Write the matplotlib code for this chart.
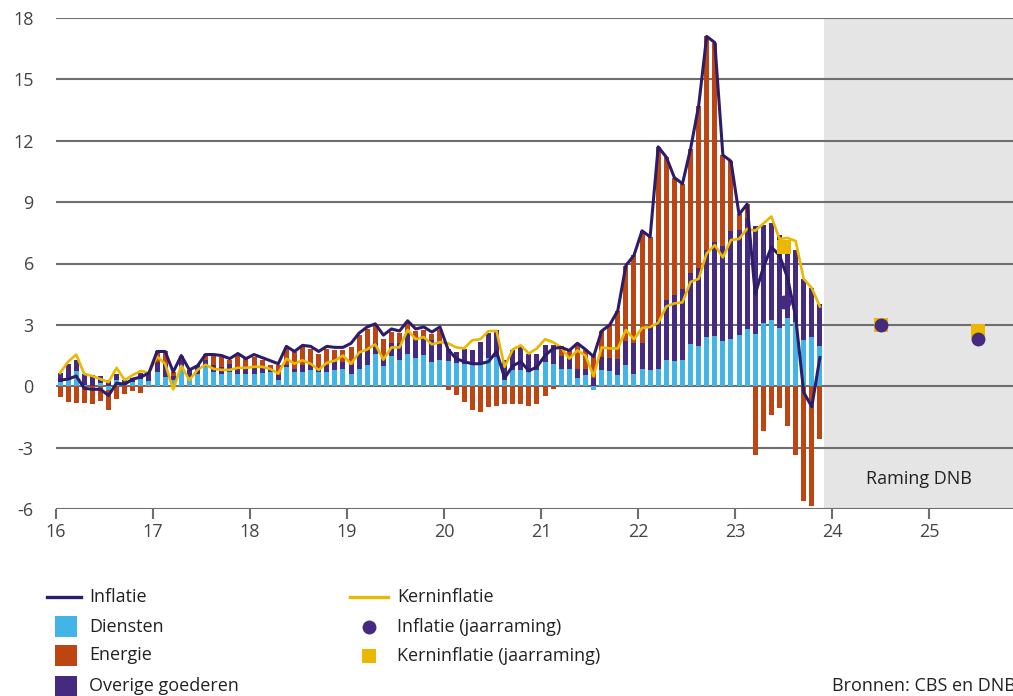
import numpy as np
import matplotlib
matplotlib.use("Agg")
import matplotlib.pyplot as plt
from matplotlib.patches import Rectangle
from matplotlib.lines import Line2D

plt.rcParams['font.family'] = ['Open Sans', 'DejaVu Sans']
plt.rcParams['axes.unicode_minus'] = False

# maandcijfers jan 2016 t/m nov 2023, bijdragen in procentpunten
diensten = [0.21, 0.29, 0.73, 0.05, 0.00, 0.16, -0.16, 0.29, 0.13, 0.21, 0.34, 0.26,
            0.70, 0.46, 0.30, 1.00, 0.46, 0.62, 0.94, 0.70, 0.62, 0.70, 0.59, 0.62,
            0.59, 0.65, 0.70, 0.29, 0.95, 0.70, 0.70, 0.78, 0.70, 0.70, 0.78, 0.83,
            0.59, 0.83, 1.03, 1.57, 0.98, 1.47, 1.30, 1.60, 1.37, 1.55, 1.19, 1.27,
            1.22, 1.16, 1.08, 1.03, 1.14, 1.40, 1.44, 0.30, 0.78, 0.78, 0.70, 0.78,
            1.19, 1.08, 0.86, 0.86, 0.38, 0.54, -0.20, 0.78, 0.75, 0.54, 1.03, 0.62,
            0.86, 0.78, 0.86, 1.27, 1.22, 1.27, 2.05, 1.97, 2.41, 2.44, 2.20, 2.30,
            2.49, 2.79, 2.57, 3.11, 3.23, 2.87, 3.36, 3.16, 2.28, 2.41, 1.97]
overige = [0.46, 0.78, 0.57, 0.54, 0.57, 0.33, 0.30, 0.33, 0.16, 0.20, 0.31, 0.44,
           0.49, 0.64, 0.20, 0.30, 0.32, 0.41, 0.33, 0.36, 0.32, 0.40, 0.35, 0.32,
           0.36, 0.35, 0.20, 0.25, 0.10, 0.16, 0.33, 0.25, 0.25, 0.33, 0.41, 0.36,
           0.44, 0.85, 0.73, 0.52, 0.37, 0.62, 0.79, 0.98, 0.88, 0.86, 1.06, 0.82,
           0.62, 0.50, 0.75, 0.73, 1.03, 1.18, 1.30, 1.00, 1.01, 1.14, 0.90, 0.82,
           0.81, 0.92, 0.61, 0.61, 0.48, 0.29, 0.40, 0.65, 0.63, 0.81, 1.17, 1.51,
           1.26, 2.20, 2.40, 2.93, 3.23, 3.50, 3.50, 3.83, 4.23, 4.61, 4.66, 5.27,
           5.13, 5.41, 5.25, 4.76, 4.77, 4.51, 3.81, 3.52, 2.98, 2.41, 2.03]
energie = [-0.52, -0.77, -0.81, -0.81, -0.88, -0.72, -0.98, -0.63, -0.36, -0.23, -0.33, -0.05,
           0.54, 0.63, 0.20, 0.20, 0.03, 0.00, 0.29, 0.45, 0.49, 0.20, 0.66, 0.44,
           0.49, 0.27, 0.13, 0.49, 0.87, 0.82, 0.89, 0.81, 0.65, 0.81, 0.60, 0.60,
           0.89, 0.82, 1.06, 0.89, 0.98, 0.57, 0.49, 0.49, 0.46, 0.36, 0.29, 0.65,
           -0.16, -0.41, -0.77, -1.17, -1.26, -1.01, -0.98, -0.88, -0.88, -0.88, -0.98, -0.85,
           -0.49, -0.11, 0.49, 0.29, 1.23, 0.93, 1.20, 1.27, 1.62, 2.35, 3.70, 4.27,
           5.48, 4.32, 8.44, 7.00, 5.75, 5.13, 6.05, 7.90, 10.46, 9.75, 4.44, 3.43,
           0.78, 0.70, -3.37, -2.18, -1.42, -1.06, -1.94, -3.37, -5.60, -5.87, -2.60]
inflatie = [0.30, 0.35, 0.50, -0.10, -0.15, -0.15, -0.45, 0.15, 0.10, 0.35, 0.45, 0.65,
            1.70, 1.70, 0.70, 1.50, 0.80, 1.00, 1.55, 1.55, 1.50, 1.35, 1.60, 1.35,
            1.55, 1.40, 1.25, 1.10, 1.95, 1.70, 2.00, 1.95, 1.70, 1.95, 1.90, 1.90,
            2.10, 2.60, 2.90, 3.05, 2.50, 2.80, 2.70, 3.20, 2.80, 2.90, 2.65, 2.90,
            1.80, 1.35, 1.20, 1.10, 1.10, 1.20, 1.70, 0.40, 1.00, 1.20, 0.75, 0.95,
            1.50, 1.85, 1.90, 1.75, 2.10, 1.80, 1.45, 2.70, 3.00, 3.70, 5.90, 6.40,
            7.60, 7.30, 11.70, 11.20, 10.20, 9.90, 11.60, 13.70, 17.10, 16.80, 11.30, 11.00,
            8.40, 8.90, 4.50, 5.80, 6.80, 6.40, 5.30, 3.40, -0.30, -1.00, 1.40]
kerninflatie = [0.65, 1.20, 1.55, 0.60, 0.50, 0.35, 0.20, 0.90, 0.30, 0.55, 0.75, 0.65,
                1.45, 1.10, -0.15, 1.00, 0.30, 0.80, 1.05, 0.85, 0.80, 0.80, 0.90, 0.90,
                0.95, 0.95, 0.85, 0.62, 1.35, 1.10, 1.27, 1.10, 0.80, 1.15, 1.25, 1.50,
                1.10, 1.65, 1.80, 2.05, 1.30, 1.90, 1.90, 2.75, 2.30, 2.40, 2.05, 2.15,
                2.10, 1.90, 1.85, 2.25, 2.30, 2.70, 2.70, 0.95, 1.80, 2.00, 1.60, 1.85,
                2.30, 2.15, 1.90, 1.35, 1.75, 1.50, 0.50, 1.90, 1.85, 1.85, 2.75, 2.30,
                2.85, 2.90, 3.10, 3.90, 4.05, 4.10, 5.10, 5.25, 6.50, 6.90, 6.30, 7.15,
                7.20, 7.70, 7.60, 7.95, 8.30, 7.20, 7.25, 7.10, 5.25, 4.80, 3.90]

# jaarramingen DNB
raming_jaar = [23, 24, 25]
raming_inflatie = [4.1, 3.0, 2.3]
raming_kern = [6.8, 3.0, 2.7]

c_diensten = '#42b4e6'
c_energie = '#bc4511'
c_overige = '#452a80'
c_inflatie = '#2c1c6a'
c_kern = '#eab800'
c_grid = '#6e6e6e'
c_tekst = '#222222'

W, H = 1013, 696
fig = plt.figure(figsize=(W / 100, H / 100), dpi=100)
ax = fig.add_axes([56 / W, 1 - 509 / H, (W - 56) / W, (509 - 18) / H])

x = 16 + (np.arange(len(inflatie)) + 0.5) / 12
breedte = 0.052

ax.axvspan(16 + 95 / 12, 27, color='#e5e5e5', zorder=0, lw=0)
for y in range(-6, 19, 3):
    ax.axhline(y, color=c_grid, lw=1.5, zorder=1)

pos_basis = np.zeros(len(x))
neg_basis = np.zeros(len(x))
for reeks, kleur in [(diensten, c_diensten), (overige, c_overige), (energie, c_energie)]:
    v = np.array(reeks)
    pos = np.clip(v, 0, None)
    neg = np.clip(v, None, 0)
    ax.bar(x, pos, bottom=pos_basis, width=breedte, color=kleur, lw=0, zorder=2)
    ax.bar(x, neg, bottom=neg_basis, width=breedte, color=kleur, lw=0, zorder=2)
    pos_basis += pos
    neg_basis += neg

ax.plot(x, kerninflatie, color=c_kern, lw=1.9, zorder=3)
ax.plot(x, inflatie, color=c_inflatie, lw=2.2, zorder=4)

rx = np.array(raming_jaar) + 0.5
ax.plot(rx, raming_kern, 's', color=c_kern, ms=9.5, mew=0, zorder=5)
ax.plot(rx, raming_inflatie, 'o', color=c_overige, ms=10, mew=0, zorder=6)

ax.text(24.9, -4.55, 'Raming DNB', ha='center', va='center', fontsize=13, color=c_tekst)

ax.set_xlim(16, 16 + (W - 56) / 97)
ax.set_ylim(-6, 18)
ax.set_xticks(range(16, 26))
ax.set_xticklabels([str(j) for j in range(16, 26)])
ax.set_yticks(range(-6, 19, 3))
ax.tick_params(axis='x', length=7, width=1.5, color=c_grid, labelsize=13,
               labelcolor='#444444', pad=3)
ax.tick_params(axis='y', length=0, labelsize=13, labelcolor='#444444', pad=16)
for s in ax.spines.values():
    s.set_visible(False)


def fx(px):
    return px / W


def fy(py):
    return 1 - py / H


# legenda
fig.add_artist(Line2D([fx(47), fx(81)], [fy(597), fy(597)], color=c_inflatie, lw=2.4))
fig.add_artist(Line2D([fx(350), fx(388)], [fy(597), fy(597)], color=c_kern, lw=2.4))
for cy, kleur in [(626.5, c_diensten), (655.5, c_energie), (686, c_overige)]:
    fig.add_artist(Rectangle((fx(55), fy(cy + 10.5)), 21.5 / W, 21 / H,
                             color=kleur, lw=0, transform=fig.transFigure))
fig.add_artist(Line2D([fx(369)], [fy(626.5)], marker='o', color=c_overige, ms=10, mew=0, lw=0))
fig.add_artist(Line2D([fx(369)], [fy(656)], marker='s', color=c_kern, ms=9.5, mew=0, lw=0))

labels = [(89, 597, 'Inflatie'), (89, 626.5, 'Diensten'), (89, 655.5, 'Energie'),
          (89, 686, 'Overige goederen'), (397, 597, 'Kerninflatie'),
          (397, 626.5, 'Inflatie (jaarraming)'), (397, 656, 'Kerninflatie (jaarraming)'),
          (832, 686, 'Bronnen: CBS en DNB')]
for px, py, t in labels:
    fig.text(fx(px), fy(py), t, ha='left', va='center', fontsize=13, color=c_tekst)

fig.savefig('out.png', dpi=100)
